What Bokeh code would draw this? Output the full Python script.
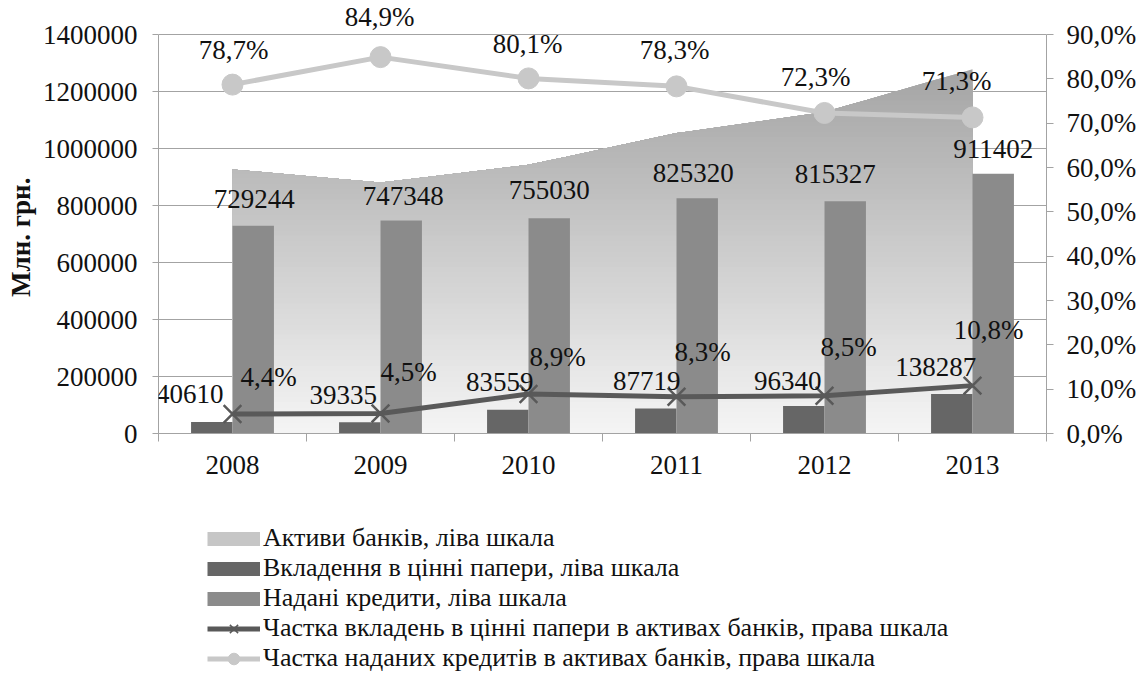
import numpy as np
from bokeh.plotting import figure
from bokeh.layouts import column
from bokeh.models import (Range1d, LinearAxis, FixedTicker, NumeralTickFormatter,
                          CustomJSTickFormatter, ColumnDataSource, Legend, LegendItem, LabelSet)
from bokeh.embed import file_html
from bokeh.resources import INLINE

# ---------------- data ----------------
years = ["2008", "2009", "2010", "2011", "2012", "2013"]
assets = [926600, 880300, 942600, 1054000, 1127700, 1278300]
securities = [40610, 39335, 83559, 87719, 96340, 138287]
loans = [729244, 747348, 755030, 825320, 815327, 911402]
sec_share = [4.4, 4.5, 8.9, 8.3, 8.5, 10.8]
loan_share = [78.7, 84.9, 80.1, 78.3, 72.3, 71.3]
left_ticks = [0, 200000, 400000, 600000, 800000, 1000000, 1200000, 1400000]
right_ticks = [0, 10, 20, 30, 40, 50, 60, 70, 80, 90]
legend_labels = [
    "Активи банків, ліва шкала",
    "Вкладення в цінні папери, ліва шкала",
    "Надані кредити, ліва шкала",
    "Частка вкладень в цінні папери в активах банків, права шкала",
    "Частка наданих кредитів в активах банків, права шкала",
]
y_title = "Млн. грн."

# ---------------- label placement (screen px, dy = up) ----------------
loan_share_dx = [1, -1, -1, -2, -9, -16]
loan_share_dy = [35, 40, 34.5, 36.5, 36, 36]
sec_share_dx = [36, 28, 29, 26, 24, 16]
sec_share_dy = [37, 42, 37, 45, 49, 56]
sec_dx = [-22, -16.5, -8, -9, -16, -16]
sec_dy = [28, 27, 28, 28, 25.5, 27.5]
loan_dx = [1, 2, 0, -4, -10, 0]
loan_dy = [27, 25, 28, 25, 27, 25]

FONT = "Liberation Serif"
FS = "27px"
GRID = "#a3a3a3"
LIGHT = "#c8c8c8"
DARK = "#595959"
C_SEC = "#666666"
C_LOAN = "#8b8b8b"
C_AREA = "#c6c6c6"

W, H = 1143, 675
F_LEFT, F_RIGHT, F_ZERO, F_TOP = 158, 1046, 433, 34   # frame geometry (px)
H1 = 483                                               # chart part, legend below
Y_MAX, P_MAX = 1400000, 90

xc = [i + 0.5 for i in range(len(years))]
BW = 0.28

# frame extends to the top edge of the canvas so labels above 1400000 are not clipped
y_end = Y_MAX * F_ZERO / (F_ZERO - F_TOP)
p_end = P_MAX * F_ZERO / (F_ZERO - F_TOP)

p = figure(width=W, height=H1, output_backend="svg", toolbar_location=None,
           x_range=Range1d(0, len(years)), y_range=Range1d(0, y_end),
           min_border_left=F_LEFT, min_border_right=W - F_RIGHT, min_border_top=0,
           min_border_bottom=H1 - F_ZERO, x_axis_location=None, y_axis_location=None)
p.outline_line_color = None
p.background_fill_color = "white"
p.border_fill_color = "white"
p.extra_y_ranges = {"pct": Range1d(0, p_end)}

# axes
yax = LinearAxis(ticker=FixedTicker(ticks=left_ticks), formatter=NumeralTickFormatter(format="0"),
                 bounds=(0, Y_MAX))
# trailing no-break spaces move the rotated title down to the middle of the 0..1400000 span
yax.axis_label = y_title + "\u00a0" * 6
yax.axis_label_text_font = FONT
yax.axis_label_text_font_size = "27px"
yax.axis_label_text_font_style = "bold"
yax.axis_label_text_color = "#111111"
yax.axis_label_standoff = 4
p.add_layout(yax, "left")

ryax = LinearAxis(y_range_name="pct", ticker=FixedTicker(ticks=right_ticks), bounds=(0, P_MAX),
                  formatter=CustomJSTickFormatter(code="return tick.toFixed(1).replace('.', ',') + '%';"))
p.add_layout(ryax, "right")

xax = LinearAxis(ticker=FixedTicker(ticks=xc, minor_ticks=list(range(len(years) + 1))))
xax.major_label_overrides = {x: y for x, y in zip(xc, years)}
p.add_layout(xax, "below")

for ax in (yax, ryax, xax):
    ax.axis_line_color = GRID
    ax.major_tick_line_color = GRID
    ax.minor_tick_line_color = None
    ax.major_tick_in = 0
    ax.major_label_text_font = FONT
    ax.major_label_text_font_size = FS
    ax.major_label_text_color = "#111111"
yax.major_tick_out = 6
yax.major_label_standoff = 15
ryax.major_tick_out = 7
ryax.major_label_standoff = 13
xax.major_tick_line_color = None
xax.major_tick_out = 0
xax.minor_tick_line_color = GRID
xax.minor_tick_in = 0
xax.minor_tick_out = 8
xax.major_label_standoff = 14

p.xgrid.visible = False
p.ygrid.ticker = FixedTicker(ticks=left_ticks)
p.ygrid.grid_line_color = GRID

# ---------------- gradient area (assets) ----------------
nb = 70
top = max(assets)
levels = np.linspace(0, top, nb + 1)
px = set(xc)
for i in range(len(xc) - 1):
    a, b = assets[i], assets[i + 1]
    for L in levels[1:-1]:
        if (a - L) * (b - L) < 0:
            px.add(xc[i] + (L - a) / (b - a))
px = np.array(sorted(px))
py = np.interp(px, xc, assets)
c_bot, c_top = 245, 164
for k in range(nb - 1, -1, -1):
    hi = levels[k + 1]
    c = int(round(c_bot + (c_top - c_bot) * (k + 0.5) / nb))
    col = "#%02x%02x%02x" % (c, c, c)
    p.varea(x=px, y1=np.zeros_like(py), y2=np.minimum(py, hi), fill_color=col)

# ---------------- bars ----------------
src = ColumnDataSource(dict(
    x=xc, x_sec=[x - BW / 2 for x in xc], x_loan=[x + BW / 2 for x in xc],
    securities=securities, loans=loans, sec_share=sec_share, loan_share=loan_share,
    sec_txt=[str(v) for v in securities], loan_txt=[str(v) for v in loans],
    sec_share_txt=[("%.1f" % v).replace(".", ",") + "%" for v in sec_share],
    loan_share_txt=[("%.1f" % v).replace(".", ",") + "%" for v in loan_share],
    sec_dx=sec_dx, sec_dy=sec_dy, loan_dx=loan_dx, loan_dy=loan_dy,
    ss_dx=sec_share_dx, ss_dy=sec_share_dy, ls_dx=loan_share_dx, ls_dy=loan_share_dy,
))

p.vbar(x="x_sec", top="securities", width=BW, source=src, fill_color=C_SEC, line_color=None)
p.vbar(x="x_loan", top="loans", width=BW, source=src, fill_color=C_LOAN, line_color=None)

# ---------------- lines ----------------
p.line("x", "loan_share", source=src, y_range_name="pct", line_color=LIGHT, line_width=5)
p.scatter("x", "loan_share", source=src, y_range_name="pct", marker="circle", size=21,
          fill_color=LIGHT, line_color=LIGHT)
p.line("x", "sec_share", source=src, y_range_name="pct", line_color=DARK, line_width=5)
p.scatter("x", "sec_share", source=src, y_range_name="pct", marker="x", size=25,
          line_color=DARK, line_width=2.5)

# ---------------- labels ----------------
def lbl(x, y, text, dx, dy, rng="default"):
    ls = LabelSet(x=x, y=y, text=text, x_offset=dx, y_offset=dy, source=src, y_range_name=rng,
                  text_font=FONT, text_font_size=FS, text_color="#111111",
                  text_align="center", text_baseline="middle")
    p.add_layout(ls)

lbl("x_loan", "loans", "loan_txt", "loan_dx", "loan_dy")
lbl("x_sec", "securities", "sec_txt", "sec_dx", "sec_dy")
lbl("x", "loan_share", "loan_share_txt", "ls_dx", "ls_dy", "pct")
lbl("x", "sec_share", "sec_share_txt", "ss_dx", "ss_dy", "pct")

# ---------------- legend (separate strip under the chart, frames aligned) ----------------
H2 = H - H1
q = figure(width=W, height=H2, output_backend="svg", toolbar_location=None,
           x_range=Range1d(0, 1), y_range=Range1d(0, 1),
           min_border_left=0, min_border_right=0, min_border_top=0, min_border_bottom=0,
           x_axis_location=None, y_axis_location=None)
q.outline_line_color = None
q.xgrid.visible = False
q.ygrid.visible = False
# legend-only glyphs, placed outside the visible ranges
off = dict(x=[-5, -4], y=[-5, -4])
g_area = q.line(line_color=C_AREA, line_width=14, **off)
g_sec = q.line(line_color=C_SEC, line_width=14, **off)
g_loan = q.line(line_color=C_LOAN, line_width=14, **off)
g_sl = q.line(line_color=DARK, line_width=5, **off)
g_sm = q.scatter(marker="x", line_color=DARK, line_width=1.5, **off)
g_ll = q.line(line_color=LIGHT, line_width=5, **off)
g_lm = q.scatter(marker="circle", fill_color=LIGHT, line_color=LIGHT, **off)

legend = Legend(items=[
    LegendItem(label=legend_labels[0], renderers=[g_area]),
    LegendItem(label=legend_labels[1], renderers=[g_sec]),
    LegendItem(label=legend_labels[2], renderers=[g_loan]),
    LegendItem(label=legend_labels[3], renderers=[g_sl, g_sm]),
    LegendItem(label=legend_labels[4], renderers=[g_ll, g_lm]),
], location=(207 - F_LEFT, 2))
legend.label_text_font = FONT
legend.label_text_font_size = "26px"
legend.label_text_color = "#111111"
legend.glyph_width = 53
legend.glyph_height = 29
legend.label_height = 29
legend.label_standoff = 3
legend.spacing = 0
legend.padding = 0
legend.margin = 0
legend.border_line_color = None
legend.background_fill_alpha = 0
q.add_layout(legend, "center")

layout = column(p, q, spacing=0)
open("out.html", "w").write(file_html(layout, INLINE))
